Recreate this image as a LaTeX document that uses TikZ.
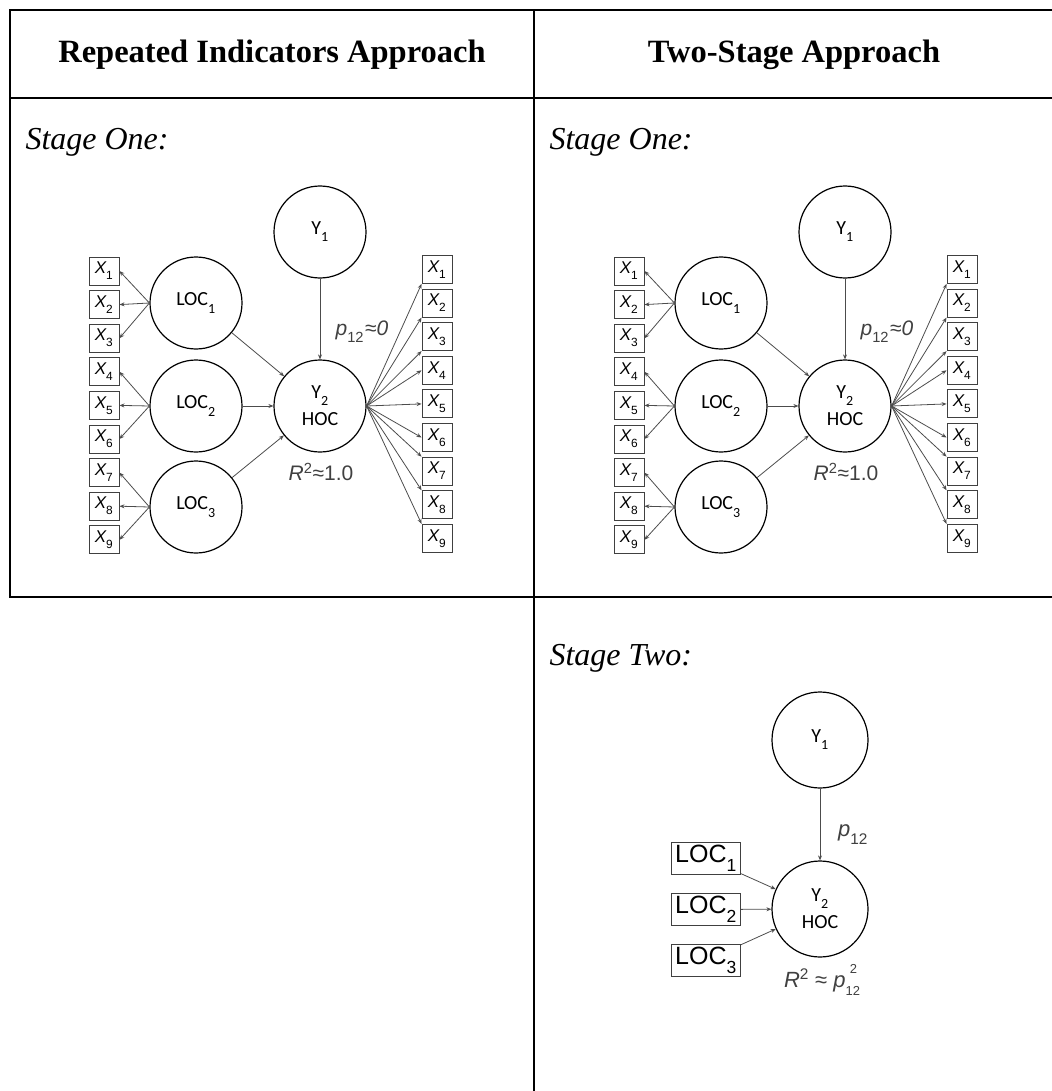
\documentclass[tikz,border=0pt]{standalone}
\usepackage{fontspec}
\setmainfont{Liberation Serif}
\newfontfamily\diagsans{Liberation Sans}
\newfontfamily\labsans{Carlito}
\usetikzlibrary{arrows.meta}

% lowered subscript and raised superscript used in the path diagrams
\newcommand\dsub[1]{\raisebox{-0.2em}{\textsubscript{#1}}}
\newcommand\stacksupsub[2]{%
  \makebox[0pt][l]{\kern0.2em\raisebox{0.62em}{\fontsize{13}{13}\selectfont #1}}%
  \raisebox{-0.38em}{\fontsize{13}{13}\selectfont #2}}

\tikzset{
  rule/.style={line width=2pt, line cap=rect},
  headtext/.style={font=\fontsize{32.5}{38}\selectfont\bfseries},
  stagetext/.style={anchor=base west, font=\fontsize{32}{38}\selectfont\itshape},
  latent/.style={circle, draw=black, line width=1.2pt, minimum size=92pt,
    inner sep=0pt, align=center, font=\labsans\fontsize{20}{24}\selectfont},
  ind/.style={draw=black!75, line width=0.9pt, minimum width=30pt,
    minimum height=28pt, inner sep=0pt,
    font=\diagsans\itshape\fontsize{17}{17}\selectfont},
  locbox/.style={draw=black!75, line width=0.9pt, minimum width=69pt,
    minimum height=32pt, inner sep=0pt,
    font=\diagsans\fontsize{25}{25}\selectfont},
  conn/.style={draw=black!70, line width=0.8pt,
    -{Stealth[length=5pt,width=4pt]}},
  coef/.style={text=black!75, font=\diagsans\fontsize{21}{21}\selectfont},
}

\begin{document}
\begin{tikzpicture}[x=1pt,y=-1pt]
\useasboundingbox (0,0) rectangle (1051,1091);

% table rules
\draw[rule] (10,10) -- (1051,10);
\draw[rule] (10,98) -- (1051,98);
\draw[rule] (10,597) -- (1051,597);
\draw[rule] (10,10) -- (10,597);
\draw[rule] (534,10) -- (534,1091);

% headings
\node[headtext] (h1) at (272,55) {Repeated Indicators Approach};
\node[headtext] (h2) at (794,55) {Two-Stage Approach};
\node[stagetext] (s1) at (22,150) {Stage One:};
\node[stagetext] (s2) at (546,150) {Stage One:};
\node[stagetext] (s3) at (546,665) {Stage Two:};

% stage one model, drawn in both columns
\foreach \dx/\pf in {0/L,525/R}{
\begin{scope}[shift={(\dx,0)}, name prefix=\pf-]
  \node[latent] (y1) at (320,232) {Y\dsub{1}};
  \node[latent] (y2) at (320,406) {Y\dsub{2}\\[3pt]HOC};
  \node[latent] (loc1) at (196,303) {LOC\dsub{1}};
  \node[latent] (loc2) at (196,406) {LOC\dsub{2}};
  \node[latent] (loc3) at (196,507) {LOC\dsub{3}};
  \foreach \i in {1,...,9}{
    \node[ind] (xl\i) at (104,{271+(\i-1)*33.6}) {X\dsub{\upshape\i}};
    \node[ind] (xr\i) at (437,{269.5+(\i-1)*33.6}) {X\dsub{\upshape\i}};
  }
  % loadings of the lower order constructs
  \foreach \i in {1,2,3} \draw[conn] (loc1.west) -- (xl\i.east);
  \foreach \i in {4,5,6} \draw[conn] (loc2.west) -- (xl\i.east);
  \foreach \i in {7,8,9} \draw[conn] (loc3.west) -- (xl\i.east);
  % repeated indicators of the higher order construct
  \foreach \i in {1,2,3} \draw[conn] (y2.east) -- (xr\i.south west);
  \foreach \i in {4,5,6} \draw[conn] (y2.east) -- (xr\i.west);
  \foreach \i in {7,8,9} \draw[conn] (y2.east) -- (xr\i.north west);
  % structural paths
  \draw[conn] (loc1) -- (y2);
  \draw[conn] (loc2) -- (y2);
  \draw[conn] (loc3) -- (y2);
  \draw[conn] (y1) -- (y2);
  \node[coef] (p) at (362,332) {\textit{p}\dsub{12}\kern1pt≈\textit{0}};
  \node[coef] (r) at (321,472) {\textit{R}\textsuperscript{2}≈1.0};
\end{scope}
}

% stage two model
\node[latent, minimum size=96pt] (t-y1) at (820,740) {Y\dsub{1}};
\node[latent, minimum size=96pt] (t-y2) at (820,909) {Y\dsub{2}\\[3pt]HOC};
\node[locbox] (t-loc1) at (706,858) {LOC\dsub{1}};
\node[locbox] (t-loc2) at (706,909.5) {LOC\dsub{2}};
\node[locbox] (t-loc3) at (706,960.5) {LOC\dsub{3}};
\draw[conn] (t-loc1) -- (t-y2);
\draw[conn] (t-loc2) -- (t-y2);
\draw[conn] (t-loc3) -- (t-y2);
\draw[conn] (t-y1) -- (t-y2);
\node[coef, font=\diagsans\fontsize{22}{22}\selectfont] (t-p) at (853,835) {\textit{p}\dsub{12}};
\node[coef, font=\diagsans\fontsize{22}{22}\selectfont] (t-r) at (822,980)
  {\textit{R}\textsuperscript{2} ≈ \textit{p}\stacksupsub{2}{12}};
\end{tikzpicture}
\end{document}
